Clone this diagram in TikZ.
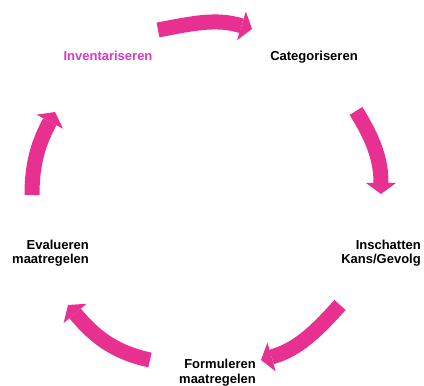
\documentclass[tikz,border=0pt]{standalone}
\usepackage{fontspec}
\setmainfont{Liberation Sans}
\usetikzlibrary{arrows.meta}
\definecolor{cyclepink}{RGB}{232,48,145}
\definecolor{steppurple}{RGB}{214,58,198}

\begin{document}
\begin{tikzpicture}[x=1pt,y=1pt]
\tikzstyle{every node}=[inner sep=0pt, align=right, font=\fontsize{13}{14.5}\selectfont\bfseries]
\tikzstyle{cycle arrow}=[draw=cyclepink, line width=15pt, -{Triangle[length=11pt,width=30pt,line width=0pt]}]
\useasboundingbox (0,0) rectangle (424,386);
% steps
\draw (108,325.3) node (inv) [anchor=base, text=steppurple] {Inventariseren};
\draw (314,325.5) node (cat) [anchor=base] {Categoriseren};
\draw (421,122.2) node (ins) [anchor=base east] {Inschatten\\Kans/Gevolg};
\draw (256,2.5) node (form) [anchor=base east] {Formuleren\\maatregelen};
\draw (89,122.2) node (eval) [anchor=base east] {Evalueren\\maatregelen};
% arrow ends
\coordinate (c1) at (158,356);
\coordinate (c2) at (252,357);
\coordinate (c3) at (356,275);
\coordinate (c4) at (381,192);
\coordinate (c5) at (340,81);
\coordinate (c6) at (261,26);
\coordinate (c7) at (150,26);
\coordinate (c8) at (68,81);
\coordinate (c9) at (32,191);
\coordinate (c10) at (55,274);
% cycle
\draw[cycle arrow] (c1) to[out=11,in=163] (c2);
\draw[cycle arrow] (c3) to[out=-58,in=90] (c4);
\draw[cycle arrow] (c5) to[out=228,in=16] (c6);
\draw[cycle arrow] (c7) to[out=168,in=310] (c8);
\draw[cycle arrow] (c9) to[out=90,in=242] (c10);
\end{tikzpicture}
\end{document}
